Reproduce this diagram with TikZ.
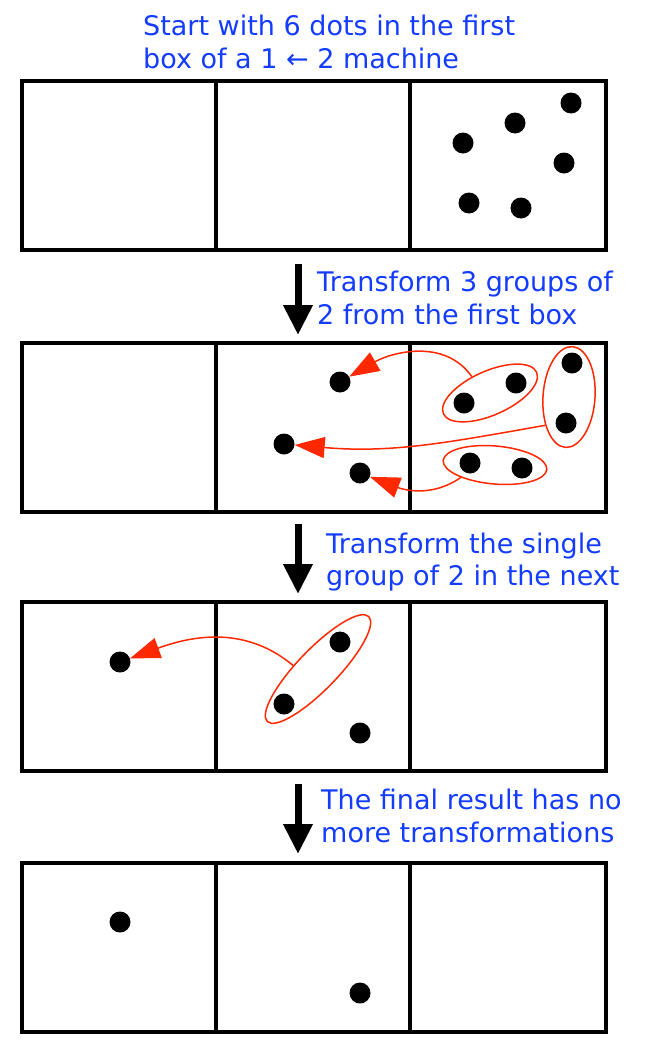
\documentclass[tikz,border=0pt]{standalone}
\usepackage{fontspec}
\setmainfont{DejaVu Sans}
\usetikzlibrary{arrows.meta,shapes.geometric}
\definecolor{txtblue}{RGB}{20,60,255}
\definecolor{grpred}{RGB}{255,40,0}
\begin{document}
\begin{tikzpicture}[x=1pt,y=1pt,
  cell/.style={draw, line width=4pt, minimum width=194pt, minimum height=169pt, inner sep=0pt, outer sep=0pt},
  wcell/.style={cell, minimum width=196pt},
  dot/.style={circle, fill=black, minimum size=21pt, inner sep=0pt},
  grp/.style={ellipse, draw=grpred, line width=1.5pt, inner sep=0pt},
  move/.style={draw=grpred, line width=1.5pt, -{Triangle[length=30pt,width=21pt]}},
  downarrow/.style={line width=7pt, -{Triangle[length=30pt,width=28pt]}},
  lbl/.style={text=txtblue, font=\fontsize{27}{33}\selectfont, anchor=base west, inner sep=0pt}
]
\useasboundingbox (0,0) rectangle (660,-1044);

% captions
\node[lbl] (t1a) at (143,-35) {Start with 6 dots in the first};
\node[lbl] (t1b) at (143,-68) {box of a 1 ← 2 machine};
\node[lbl] (t2a) at (317,-291) {Transform 3 groups of};
\node[lbl] (t2b) at (317,-324) {2 from the first box};
\node[lbl] (t3a) at (326,-553) {Transform the single};
\node[lbl] (t3b) at (326,-585) {group of 2 in the next};
\node[lbl] (t4a) at (321,-809) {The final result has no};
\node[lbl] (t4b) at (321,-842) {more transformations};

% row 1
\node[cell] (r1a) at (119,-165.5) {};
\node[cell] (r1b) at (313,-165.5) {};
\node[wcell] (r1c) at (508,-165.5) {};
\node[dot] (d1a) at (571,-103) {};
\node[dot] (d1b) at (515,-123) {};
\node[dot] (d1c) at (463,-143) {};
\node[dot] (d1d) at (564,-163) {};
\node[dot] (d1e) at (469,-203) {};
\node[dot] (d1f) at (521,-208) {};

% row 2
\node[cell] (r2a) at (119,-427.5) {};
\node[cell] (r2b) at (313,-427.5) {};
\node[wcell] (r2c) at (508,-427.5) {};
\node[dot] (d2a) at (340,-382) {};
\node[dot] (d2b) at (284,-444) {};
\node[dot] (d2c) at (360,-473) {};
\node[dot] (d2d) at (464,-403) {};
\node[dot] (d2e) at (516,-383) {};
\node[dot] (d2f) at (572,-363) {};
\node[dot] (d2g) at (566,-423) {};
\node[dot] (d2h) at (470,-463) {};
\node[dot] (d2i) at (522,-468) {};
\node[grp, minimum width=102pt, minimum height=44pt, rotate=24] (e1) at (490,-393) {};
\node[grp, minimum width=52pt, minimum height=101pt, rotate=-4] (e2) at (569,-397) {};
\node[grp, minimum width=104pt, minimum height=38pt, rotate=-5] (e3) at (495,-465) {};
\draw[move] (e1.114) to[out=125,in=30] (d2a);
\draw[move] (e2.234) to[out=190,in=-5] (d2b);
\draw[move] (e3.205) to[out=215,in=-21] (d2c);

% row 3
\node[cell] (r3a) at (119,-686.5) {};
\node[cell] (r3b) at (313,-686.5) {};
\node[wcell] (r3c) at (508,-686.5) {};
\node[dot] (d3a) at (120,-662) {};
\node[dot] (d3b) at (340,-642) {};
\node[dot] (d3c) at (284,-704) {};
\node[dot] (d3d) at (360,-733) {};
\node[grp, minimum width=146pt, minimum height=40pt, rotate=46] (e4) at (318,-669) {};
\draw[move] (e4.126) to[out=140,in=20] (d3a);

% row 4
\node[cell] (r4a) at (119,-947.5) {};
\node[cell] (r4b) at (313,-947.5) {};
\node[wcell] (r4c) at (508,-947.5) {};
\node[dot] (d4a) at (120,-922) {};
\node[dot] (d4b) at (360,-993) {};

% step arrows
\coordinate (a1s) at (298,-264);
\coordinate (a1e) at (298,-335);
\coordinate (a2s) at (298,-524);
\coordinate (a2e) at (298,-594);
\coordinate (a3s) at (298,-784);
\coordinate (a3e) at (298,-854);
\draw[downarrow] (a1s) -- (a1e);
\draw[downarrow] (a2s) -- (a2e);
\draw[downarrow] (a3s) -- (a3e);
\end{tikzpicture}
\end{document}
